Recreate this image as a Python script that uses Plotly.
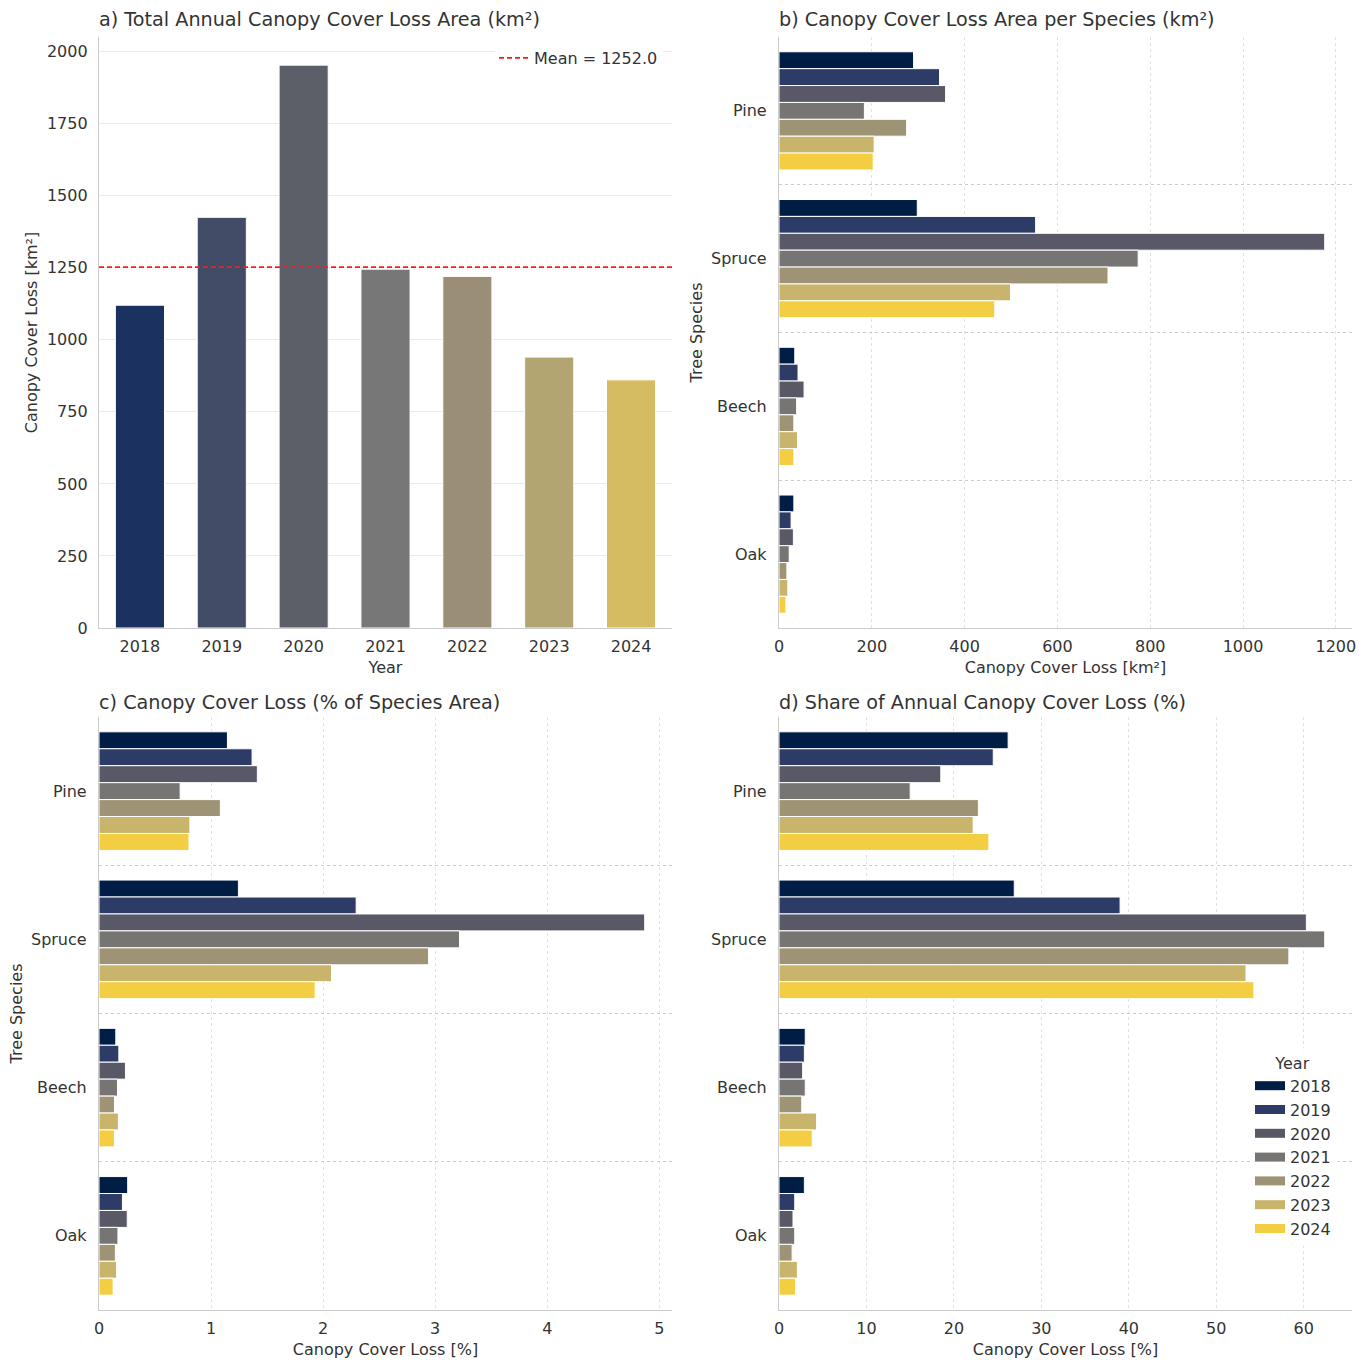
import numpy as np
import plotly.graph_objects as go

# ---------------------------------------------------------------- data
years = [2018, 2019, 2020, 2021, 2022, 2023, 2024]
species = ["Pine", "Spruce", "Beech", "Oak"]

# total canopy cover loss per year [km²]
total_loss_km2 = [1120, 1425, 1953, 1245, 1220, 940, 861]

# canopy cover loss area per species [km²]
loss_km2_pine = [290, 346, 359, 184, 275, 205, 203]
loss_km2_spruce = [298, 553, 1176, 774, 709, 499, 465]
loss_km2_beech = [34, 41, 54, 38, 32, 40, 32]
loss_km2_oak = [32, 26, 31, 22, 17, 19, 15]

# canopy cover loss as % of each species' area
loss_pct_pine = [1.146, 1.366, 1.413, 0.724, 1.083, 0.811, 0.803]
loss_pct_spruce = [1.244, 2.295, 4.870, 3.217, 2.941, 2.075, 1.929]
loss_pct_beech = [0.150, 0.177, 0.236, 0.165, 0.138, 0.173, 0.138]
loss_pct_oak = [0.256, 0.209, 0.252, 0.169, 0.146, 0.157, 0.126]

# share of the annual canopy cover loss [%]
share_pct_pine = [26.2, 24.5, 18.5, 15.0, 22.8, 22.2, 24.0]
share_pct_spruce = [26.9, 39.0, 60.3, 62.4, 58.3, 53.4, 54.3]
share_pct_beech = [3.0, 2.9, 2.7, 3.0, 2.6, 4.3, 3.8]
share_pct_oak = [2.9, 1.8, 1.6, 1.8, 1.5, 2.1, 1.9]

# ---------------------------------------------------------------- styling
total_colors = ["#1b3160", "#434c66", "#5c5e68", "#777777", "#9a8f76", "#b3a571", "#d5bb62"]
year_colors = ["#001d45", "#2d3c66", "#585867", "#777573", "#9e9374", "#c9b46b", "#f3cd42"]

FONT = "DejaVu Sans"
TEXT = "#333333"
SPINE = "#cccccc"
W, H = 1370, 1360


def px_x(p):
    return p / W


def px_y(p):
    return 1 - p / H


dom_left = [px_x(99), px_x(672)]
dom_right = [px_x(779), px_x(1352)]
dom_top = [px_y(628), px_y(37)]
dom_bottom = [px_y(1310), px_y(717)]


def by_year(*species_series):
    """Re-arrange per-species series into per-year lists (one value per species)."""
    return [[s[i] for s in species_series] for i in range(len(years))]


area_by_year = by_year(loss_km2_pine, loss_km2_spruce, loss_km2_beech, loss_km2_oak)
pct_by_year = by_year(loss_pct_pine, loss_pct_spruce, loss_pct_beech, loss_pct_oak)
share_by_year = by_year(share_pct_pine, share_pct_spruce, share_pct_beech, share_pct_oak)

fig = go.Figure()

# ---------------------------------------------------------------- a) totals
fig.add_trace(go.Bar(
    x=years, y=total_loss_km2, width=0.6,
    marker=dict(color=total_colors, line=dict(color="white", width=1)),
    xaxis="x", yaxis="y", showlegend=False,
))

mean_loss = float(np.mean(total_loss_km2))
fig.add_trace(go.Scatter(
    x=[years[0] - 0.5, years[-1] + 0.5], y=[mean_loss, mean_loss],
    mode="lines", line=dict(color="#ff1a1a", width=1.8, dash="5px,3px"),
    name=f"Mean = {mean_loss:.1f}", xaxis="x", yaxis="y",
    legend="legend2", showlegend=True, hoverinfo="skip",
))

# ---------------------------------------------------------------- b), c), d) per species
panels = [(area_by_year, "x2", "y2"), (pct_by_year, "x3", "y3"), (share_by_year, "x4", "y4")]
for values, xa, ya in panels:
    for i, yr in enumerate(years):
        fig.add_trace(go.Bar(
            x=values[i], y=species, orientation="h",
            marker=dict(color=year_colors[i], line=dict(color="white", width=1)),
            name=str(yr), xaxis=xa, yaxis=ya, showlegend=False,
        ))

# legend entries (wide swatches) for the year colours
for i, yr in enumerate(years):
    fig.add_trace(go.Scatter(
        x=[None], y=[None], mode="lines",
        line=dict(color=year_colors[i], width=9),
        name=str(yr), xaxis="x4", yaxis="y4", legend="legend",
    ))

# ---------------------------------------------------------------- axes
tick_font = dict(family=FONT, size=16, color=TEXT)
title_font = dict(family=FONT, size=16, color=TEXT)

common = dict(
    showline=True, linecolor=SPINE, linewidth=1.3, ticks="",
    tickfont=tick_font, zeroline=False, mirror=False, automargin=False,
)


def value_axis(domain, anchor, data_max, dtick, title):
    return dict(
        common, domain=domain, anchor=anchor, range=[0, data_max * 1.05],
        dtick=dtick, tick0=0, showgrid=True, gridcolor="#e3e3e3", griddash="dot",
        gridwidth=1, ticklabelstandoff=4,
        title=dict(text=title, font=title_font, standoff=6),
    )


def species_axis(domain, anchor, title):
    return dict(
        common, domain=domain, anchor=anchor, type="category",
        categoryorder="array", categoryarray=species, range=[len(species) - 0.5, -0.5],
        tickson="boundaries", showgrid=True, gridcolor="#cccccc", griddash="dot",
        gridwidth=1, ticklabelstandoff=8,
        title=dict(text=title, font=title_font, standoff=4),
    )


area_max = max(max(s) for s in (loss_km2_pine, loss_km2_spruce, loss_km2_beech, loss_km2_oak))
pct_max = max(max(s) for s in (loss_pct_pine, loss_pct_spruce, loss_pct_beech, loss_pct_oak))
share_max = max(max(s) for s in (share_pct_pine, share_pct_spruce, share_pct_beech, share_pct_oak))

fig.update_layout(
    width=W, height=H,
    margin=dict(l=0, r=0, t=0, b=0),
    paper_bgcolor="white", plot_bgcolor="white",
    font=dict(family=FONT, color=TEXT, size=16),
    barmode="group", bargap=0.2, bargroupgap=0.0,
    xaxis=dict(
        common, domain=dom_left, anchor="y", range=[years[0] - 0.5, years[-1] + 0.5],
        tickvals=years, ticktext=[str(y) for y in years], showgrid=False,
        ticklabelstandoff=4,
        title=dict(text="Year", font=title_font, standoff=6),
    ),
    yaxis=dict(
        common, domain=dom_top, anchor="x", range=[0, max(total_loss_km2) * 1.05],
        dtick=250, tick0=0, showgrid=True, gridcolor="#ebebeb", gridwidth=1,
        ticklabelstandoff=7,
        title=dict(text="Canopy Cover Loss [km²]", font=title_font, standoff=5),
    ),
    xaxis2=value_axis(dom_right, "y2", area_max, 200, "Canopy Cover Loss [km²]"),
    yaxis2=species_axis(dom_top, "x2", "Tree Species"),
    xaxis3=value_axis(dom_left, "y3", pct_max, 1, "Canopy Cover Loss [%]"),
    yaxis3=species_axis(dom_bottom, "x3", "Tree Species"),
    xaxis4=value_axis(dom_right, "y4", share_max, 10, "Canopy Cover Loss [%]"),
    yaxis4=species_axis(dom_bottom, "x4", ""),
    legend=dict(
        title=dict(text="Year", side="top center", font=dict(family=FONT, size=16, color=TEXT)),
        x=px_x(1250), xanchor="left", y=px_y(1048), yanchor="top",
        bgcolor="rgba(255,255,255,0.85)", borderwidth=0,
        font=dict(family=FONT, size=16, color=TEXT),
        tracegroupgap=0, itemwidth=30,
    ),
    legend2=dict(
        x=px_x(663), xanchor="right", y=px_y(41), yanchor="top",
        bgcolor="rgba(255,255,255,0.85)", borderwidth=0,
        font=dict(family=FONT, size=16, color=TEXT),
        itemwidth=30,
    ),
    showlegend=True,
)

# ---------------------------------------------------------------- panel titles
titles = [
    ("a) Total Annual Canopy Cover Loss Area (km²)", dom_left[0], px_y(20)),
    ("b) Canopy Cover Loss Area per Species (km²)", dom_right[0], px_y(20)),
    ("c) Canopy Cover Loss (% of Species Area)", dom_left[0], px_y(702)),
    ("d) Share of Annual Canopy Cover Loss (%)", dom_right[0], px_y(702)),
]
for text, x, y in titles:
    fig.add_annotation(
        text=text, x=x, y=y, xref="paper", yref="paper",
        xanchor="left", yanchor="middle", showarrow=False, xshift=-2,
        font=dict(family=FONT, size=19.2, color=TEXT),
    )

fig.write_html("out.html")
